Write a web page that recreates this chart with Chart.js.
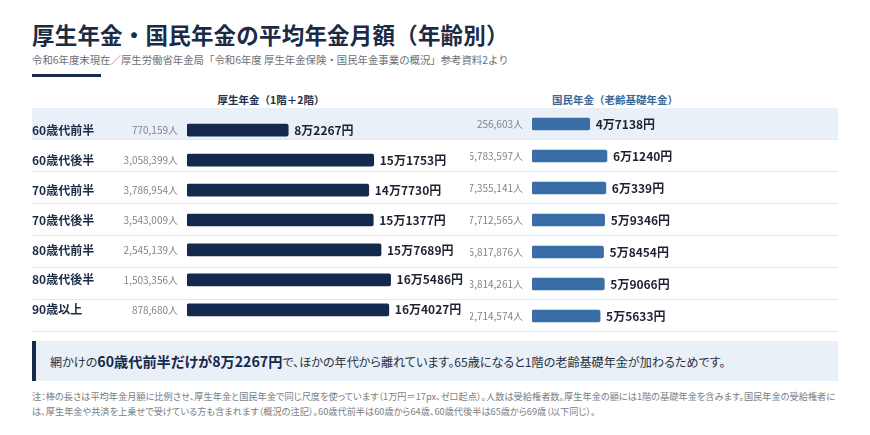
<!DOCTYPE html>
<html lang="ja">
<head>
<meta charset="utf-8">
<script src="https://cdn.jsdelivr.net/npm/chart.js@4.4.1/dist/chart.umd.min.js"></script>
<style>
  body { margin: 0; background: #fff; font-family: "Noto Sans CJK JP", "Noto Sans", sans-serif; }
  #page { position: relative; width: 870px; height: 435px; overflow: hidden; }
  .abs { position: absolute; white-space: nowrap; }
  #title { left: 32px; top: 18px; font-size: 22.5px; font-weight: 700; color: #1b2b46; letter-spacing: 0.2px; }
  #sub { left: 32px; top: 52px; font-size: 10.4px; color: #6b6f76; }
  #rule { left: 32px; top: 74px; width: 69px; height: 3px; background: #15294a; }
  .head { top: 92px; font-size: 10.5px; font-weight: 700; transform: translateX(-50%); }
  #headA { left: 271px; color: #22324c; }
  #headB { left: 615px; color: #3a6897; }
  #rows { left: 32px; top: 108px; width: 806px; }
  .row { height: 31px; border-bottom: 1px solid #e4e7eb; }
  .row.hl { background: #e9f0f8; }
  canvas { position: absolute; }
  #callout { left: 32px; top: 341px; width: 788px; height: 40px; background: #e9f0f8;
    border-left: 4px solid #15294a; padding-left: 14px; line-height: 40px; font-size: 12.1px; color: #2a3140;
    font-feature-settings: "palt"; }
  #callout b { font-size: 14.2px; color: #15294a; }
  .note { left: 32px; font-size: 9.2px; color: #7a7d83; font-feature-settings: "palt"; }
</style>
</head>
<body>
<div id="page">
  <div id="title" class="abs">厚生年金・国民年金の平均年金月額（年齢別）</div>
  <div id="sub" class="abs">令和6年度末現在／厚生労働省年金局「令和6年度 厚生年金保険・国民年金事業の概況」参考資料2より</div>
  <div id="rule" class="abs"></div>
  <div id="headA" class="abs head">厚生年金（1階＋2階）</div>
  <div id="headB" class="abs head">国民年金（老齢基礎年金）</div>
  <div id="rows" class="abs"></div>
  <canvas id="koseiChart" width="438" height="224" style="left:32px;top:108px;"></canvas>
  <canvas id="kokuminChart" width="368" height="224" style="left:470px;top:108px;"></canvas>
  <div id="callout" class="abs">網かけの<b>60歳代前半だけが8万2267円</b>で、ほかの年代から離れています。65歳になると1階の老齢基礎年金が加わるためです。</div>
  <div id="note1" class="abs note" style="top:389px;">注：棒の長さは平均年金月額に比例させ、厚生年金と国民年金で同じ尺度を使っています（1万円＝17px、ゼロ起点）。人数は受給権者数。厚生年金の額には1階の基礎年金を含みます。国民年金の受給権者に</div>
  <div id="note2" class="abs note" style="top:404px;">は、厚生年金や共済を上乗せで受けている方も含まれます（概況の注記）。60歳代前半は60歳から64歳、60歳代後半は65歳から69歳（以下同じ）。</div>
</div>
<script>
const ageGroups = ["60歳代前半", "60歳代後半", "70歳代前半", "70歳代後半", "80歳代前半", "80歳代後半", "90歳以上"];
const koseiAmount = [82267, 151753, 147730, 151377, 157689, 165486, 164027];
const koseiPeople = [770159, 3058399, 3786954, 3543009, 2545139, 1503356, 878680];
const kokuminAmount = [47138, 61240, 60339, 59346, 58454, 59066, 55633];
const kokuminPeople = [256603, 5783597, 7355141, 7712565, 5817876, 3814261, 2714574];
const highlightRow = 0;

const FONT = '"Noto Sans CJK JP", "Noto Sans", sans-serif';
Chart.defaults.font.family = FONT;

// row bands behind both charts
const rows = document.getElementById("rows");
ageGroups.forEach((g, i) => {
  const d = document.createElement("div");
  d.className = "row" + (i === highlightRow ? " hl" : "");
  rows.appendChild(d);
});

// notes: shrink line 1 until it fits the table width, use same size on line 2
const n1 = document.getElementById("note1");
const n2 = document.getElementById("note2");
let fs = 9.6;
n1.style.fontSize = fs + "px";
while (n1.getBoundingClientRect().width > 806 && fs > 7) {
  fs -= 0.1;
  n1.style.fontSize = fs + "px";
}
n2.style.fontSize = fs + "px";

function yen(v) {
  return Math.floor(v / 10000) + "万" + (v % 10000) + "円";
}

// draws amount after each bar and head count before the bar start
const labelPlugin = {
  id: "rowLabels",
  afterDatasetsDraw(chart, args, opts) {
    const c = chart.ctx;
    const meta = chart.getDatasetMeta(0);
    const left = chart.chartArea.left;
    c.save();
    c.textBaseline = "middle";
    meta.data.forEach((bar, i) => {
      c.font = "700 12px " + FONT;
      c.fillStyle = "#1d2230";
      c.textAlign = "left";
      c.fillText(yen(opts.amounts[i]), bar.x + 6, bar.y);
      c.font = "400 10px " + FONT;
      c.fillStyle = "#80848a";
      c.textAlign = "right";
      c.fillText(opts.people[i].toLocaleString("en-US") + "人", left - 9, bar.y);
    });
    c.restore();
  },
};

function barChart(id, values, people, color, xMax, showLabels, yWidth) {
  return new Chart(document.getElementById(id), {
    type: "bar",
    data: {
      labels: ageGroups,
      datasets: [{
        data: values,
        backgroundColor: color,
        barThickness: 12,
        borderRadius: 2,
        borderSkipped: false,
      }],
    },
    options: {
      indexAxis: "y",
      responsive: false,
      animation: false,
      layout: { padding: 0 },
      plugins: {
        legend: { display: false },
        tooltip: { enabled: false },
        rowLabels: { amounts: values, people: people },
      },
      scales: {
        x: { display: false, min: 0, max: xMax },
        y: {
          grid: { display: false },
          border: { display: false },
          afterFit(s) { s.width = yWidth; },
          ticks: {
            display: showLabels,
            crossAlign: "far",
            padding: 0,
            color: "#1b2b46",
            font: { size: 12, weight: "700" },
          },
        },
      },
    },
    plugins: [labelPlugin],
  });
}

barChart("koseiChart", koseiAmount, koseiPeople, "#13294d", 230000, true, 155);
barChart("kokuminChart", kokuminAmount, kokuminPeople, "#3a6ea6", 250000, false, 62);
</script>
</body>
</html>
